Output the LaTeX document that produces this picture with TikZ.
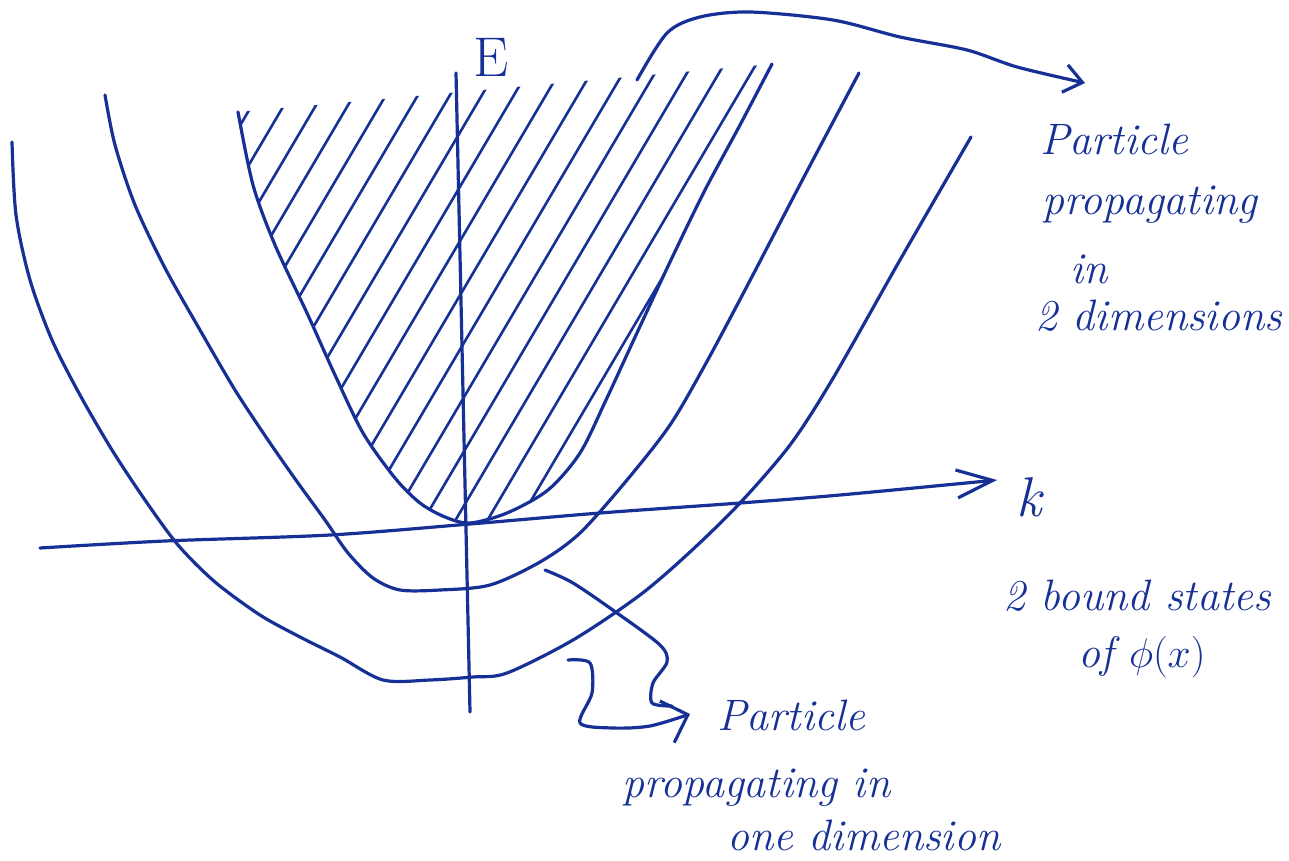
\documentclass[tikz,border=0pt]{standalone}
\usetikzlibrary{arrows.meta}
\definecolor{ink}{RGB}{22,48,150}
\begin{document}
\begin{tikzpicture}[x=0.5pt,y=-0.5pt,line cap=round,line join=round,
  pen/.style={draw=ink,line width=1.6pt},
  hatch/.style={draw=ink,line width=1.3pt},
  hand/.style={text=ink,font=\fontsize{22}{27}\selectfont\itshape,inner sep=0pt,anchor=base west},
  barb/.style 2 args={-{Straight Barb[length=#1,width=#2]}}]
  \useasboundingbox (0,0) rectangle (1289,861);
  \coordinate (Etop) at (456,73); \coordinate (Ebot) at (470,712);
  \coordinate (kleft) at (40,548); \coordinate (ktip) at (997,480);
  \coordinate (a2s) at (637,80); \coordinate (a2t) at (1085,83);
  \coordinate (s1) at (545,570); \coordinate (s2) at (568,660); \coordinate (a1t) at (690,714);
  \begin{scope}
    \clip plot[smooth] coordinates {(238,112) (253,185) (275,245) (307,313) (335,375) (363,433) (395,478) (420,503) (445,517) (470,523) (507,513) (548,490) (580,453) (606,400) (636,335) (670,262) (705,190) (740,125) (772,64)} -- cycle;
    \foreach \c in {-80,-48,...,720} \draw[hatch] (\c,560) -- ++(330,-560);
  \end{scope}
  \draw[pen] plot[smooth] coordinates {(238,112) (253,185) (275,245) (307,313) (335,375) (363,433) (395,478) (420,503) (445,517) (470,523) (507,513) (548,490) (580,453) (606,400) (636,335) (670,262) (705,190) (740,125) (772,64)};
  \draw[pen] plot[smooth] coordinates {(105,95) (115,145) (135,205) (165,268) (200,330) (235,390) (268,440) (298,483) (325,520) (348,553) (373,578) (400,590) (440,590) (490,585) (540,562) (580,533) (627,480) (670,425) (705,365) (745,290) (805,175) (859,73)};
  \draw[pen] plot[smooth] coordinates {(12,142) (16,215) (30,280) (52,340) (80,395) (112,450) (145,500) (178,545) (215,582) (260,615) (300,637) (340,657) (383,680) (430,680) (473,677) (507,673) (573,640) (640,595) (690,552) (740,503) (790,445) (832,380) (900,260) (971,137)};
  \draw[pen] (Ebot) -- (Etop);
  \draw[pen,barb={18pt}{14pt}] plot[smooth] coordinates {(kleft) (165,541) (330,535) (470,524) (600,513) (740,503) (840,495) (ktip)};
  \node[text=ink,font=\fontsize{28}{30}\selectfont] (Elab) at (491,57) {E};
  \node[text=ink,font=\fontsize{28}{30}\selectfont\itshape] (klab) at (1029,497) {k};
  \draw[pen,barb={9pt}{14pt}] plot[smooth] coordinates {(a2s) (667,33) (700,17) (750,12) (833,20) (900,37) (967,50) (1017,67) (a2t)};
  \draw[pen] plot[smooth] coordinates {(s1) (573,583) (617,613) (660,645) (667,662) (653,683) (652,703) (672,706)};
  \draw[pen,barb={11pt}{22pt}] plot[smooth] coordinates {(s2) (590,663) (592,693) (580,723) (613,728) (650,726) (a1t)};
  \node[hand] (lab2da) at (1040,155) {Particle};
  \node[hand] (lab2db) at (1042,215) {propagating};
  \node[hand] (lab2dc) at (1070,283) {in};
  \node[hand] (lab2dd) at (1035,330) {2 dimensions};
  \node[hand] (labbsa) at (1003,610) {2 bound states};
  \node[hand] (labbsb) at (1078,667) {of $\phi(x)$};
  \node[hand] (lab1da) at (717,730) {Particle};
  \node[hand] (lab1db) at (622,797) {propagating in};
  \node[hand] (lab1dc) at (727,850) {one dimension};
\end{tikzpicture}
\end{document}
